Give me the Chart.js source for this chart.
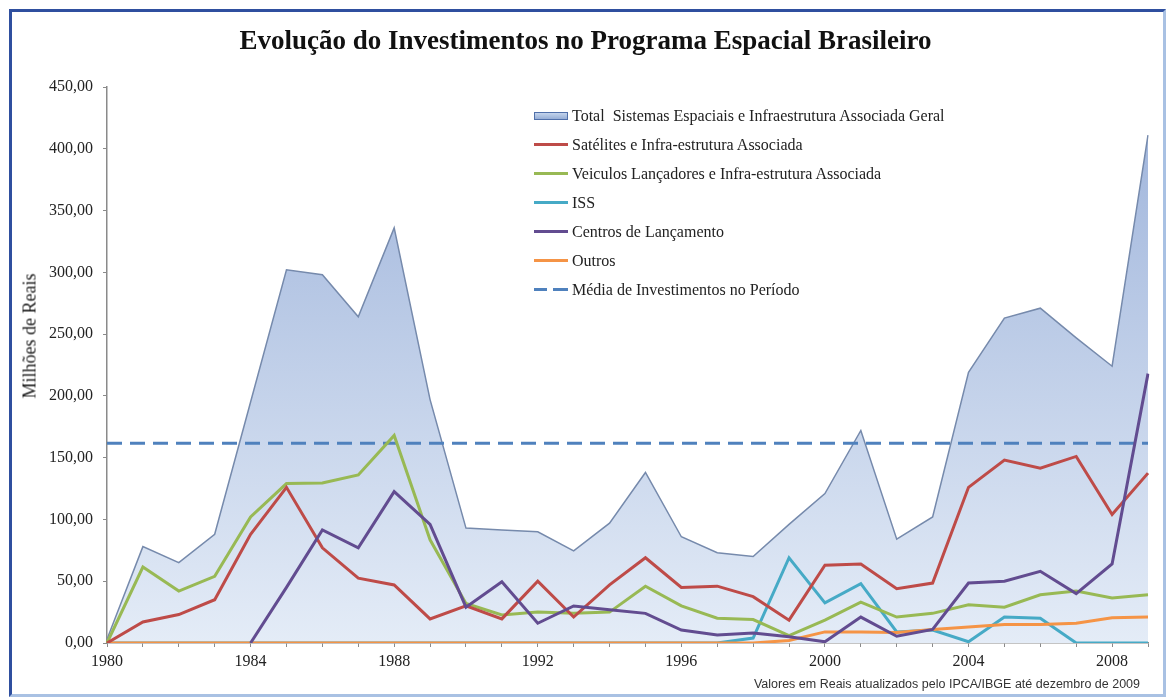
<!DOCTYPE html>
<html lang="pt-BR">
<head>
<meta charset="utf-8">
<title>Evolução do Investimentos no Programa Espacial Brasileiro</title>
<script src="https://cdn.jsdelivr.net/npm/chart.js@4.4.1/dist/chart.umd.min.js"></script>
<style>
  body {
    margin: 0;
    width: 1171px;
    height: 697px;
    overflow: hidden;
    position: relative;
    background: #fff;
    font-family: "Liberation Serif", "Times New Roman", serif;
    color: #222;
  }
  #frame {
    position: absolute;
    left: 9px;
    top: 9px;
    width: 1151px;
    height: 682px;
    border-left: 3px solid #2f4f9f;
    border-top: 3px solid #2f4f9f;
    border-right: 3px solid #a9c1e3;
    border-bottom: 3px solid #a9c1e3;
  }
  #chart {
    position: absolute;
    left: 0;
    top: 0;
  }
  #title {
    position: absolute;
    left: 0;
    top: 25px;
    width: 1171px;
    text-align: center;
    font-weight: bold;
    font-size: 27px;
    color: #111;
  }
  #yTitle {
    position: absolute;
    left: 30px;
    top: 336px;
    transform: translate(-50%, -50%) rotate(-90deg);
    white-space: nowrap;
    font-size: 18px;
    color: #1a1a1a;
  }
  #legend {
    position: absolute;
    left: 534px;
    top: 101px;
    font-size: 16px;
  }
  #legend .row {
    display: flex;
    align-items: center;
    height: 29px;
    white-space: pre;
  }
  #legend .swatch {
    width: 34px;
    margin-right: 4px;
  }
  #note {
    position: absolute;
    right: 31px;
    top: 677px;
    font-family: "Liberation Sans", Arial, sans-serif;
    font-size: 12.5px;
    color: #333;
  }
</style>
</head>
<body>
<div id="frame"></div>
<canvas id="chart" width="1171" height="697"></canvas>
<div id="title">Evolução do Investimentos no Programa Espacial Brasileiro</div>
<div id="yTitle">Milhões de Reais</div>
<div id="legend"></div>
<div id="note">Valores em Reais atualizados pelo IPCA/IBGE até dezembro de 2009</div>

<script>
"use strict";

// Anos (categorias do eixo x)
const years = [
  '1980', '1981', '1982', '1983', '1984', '1985', '1986', '1987', '1988', '1989',
  '1990', '1991', '1992', '1993', '1994', '1995', '1996', '1997', '1998', '1999',
  '2000', '2001', '2002', '2003', '2004', '2005', '2006', '2007', '2008', '2009'
];

// Valores em milhões de reais
const total = [
  3, 78, 65, 88, 195, 302, 298, 264, 336, 197,
  93, 91.5, 90, 74.5, 97, 138, 86, 73, 70, 96,
  121, 172, 84, 102, 219, 263, 271, 247, 224, 411
];
const satelites = [
  0, 17, 23, 35, 88, 126, 77, 52.5, 47, 19.5,
  30, 19.5, 50, 21, 47, 69, 45, 46, 37.5, 18.5,
  63, 64, 44, 48.5, 126, 148, 141.5, 151, 104, 137.5
];
const veiculos = [
  0, 61.5, 42, 54, 102, 129, 129.5, 136, 168, 83.5,
  32, 22.7, 25, 24, 25, 46, 30, 20, 19, 6,
  18.5, 33, 21, 24, 31, 29, 39, 42, 36.5, 39
];
const iss = [
  0, 0, 0, 0, 0, 0, 0, 0, 0, 0,
  0, 0, 0, 0, 0, 0, 0, 0, 4, 69,
  32.5, 48, 9, 10.5, 1, 21, 20, 0, 0, 0
];
const centros = [
  null, null, null, null, 0, 45, 91.5, 77, 122.5, 96,
  29, 49.5, 16, 30, 27, 24, 10.5, 6.5, 8, 5,
  1, 21, 5.5, 11, 48.5, 50, 58, 40, 64, 218
];
const outros = [
  0, 0, 0, 0, 0, 0, 0, 0, 0, 0,
  0, 0, 0, 0, 0, 0, 0, 0, 0, 2,
  9, 9, 8.5, 11, 13, 15, 15, 16, 20.5, 21
];
const mediaPeriodo = 161.6;

const yTicks = { min: 0, max: 450, step: 50 };

// Cores das séries
const red = 'rgb(190, 75, 72)';
const green = 'rgb(152, 185, 84)';
const cyan = 'rgb(70, 170, 198)';
const purple = 'rgb(98, 76, 144)';
const orange = 'rgb(245, 148, 70)';
const blue = 'rgb(79, 129, 189)';

function areaGradient(context) {
  const chart = context.chart;
  const area = chart.chartArea;
  if (!area) {
    return 'rgba(170, 192, 226, 0.9)';
  }
  const g = chart.ctx.createLinearGradient(0, area.top, 0, area.bottom);
  g.addColorStop(0, 'rgb(156, 178, 218)');
  g.addColorStop(1, 'rgb(228, 236, 247)');
  return g;
}

const datasets = [
  {
    label: 'Total  Sistemas Espaciais e Infraestrutura Associada Geral',
    data: total,
    fill: 'origin',
    backgroundColor: areaGradient,
    borderColor: 'rgb(118, 138, 172)',
    borderWidth: 1.5,
    order: 10
  },
  { label: 'Satélites e Infra-estrutura Associada', data: satelites, borderColor: red, order: 3 },
  { label: 'Veiculos Lançadores e Infra-estrutura Associada', data: veiculos, borderColor: green, order: 4 },
  { label: 'ISS', data: iss, borderColor: cyan, order: 6 },
  { label: 'Centros de Lançamento', data: centros, borderColor: purple, order: 2 },
  { label: 'Outros', data: outros, borderColor: orange, order: 5 },
  {
    label: 'Média de Investimentos no Período',
    data: [{ x: years[0], y: mediaPeriodo }, { x: years[years.length - 1], y: mediaPeriodo }],
    borderColor: blue,
    borderDash: [15, 8],
    order: 9
  }
];

const axisColor = '#8a8a8a';
const tickFont = { family: '"Liberation Serif", "Times New Roman", serif', size: 16 };

new Chart(document.getElementById('chart'), {
  type: 'line',
  data: { labels: years, datasets: datasets },
  options: {
    responsive: false,
    animation: false,
    devicePixelRatio: 1,
    layout: { padding: { left: 20, top: 87, right: 23, bottom: 24 } },
    elements: {
      point: { radius: 0 },
      line: { tension: 0, borderWidth: 3, fill: false }
    },
    plugins: {
      legend: { display: false },
      tooltip: { enabled: false }
    },
    scales: {
      x: {
        type: 'category',
        afterFit: (scale) => { scale.height = 30; },
        grid: { drawOnChartArea: false, drawTicks: true, tickLength: 4, color: axisColor },
        border: { display: true, color: axisColor, width: 1.5 },
        ticks: {
          autoSkip: false,
          maxRotation: 0,
          padding: 5,
          color: '#222',
          font: tickFont,
          callback: (value, index) => (Number(years[index]) % 4 === 0 ? years[index] : '')
        }
      },
      y: {
        min: yTicks.min,
        max: yTicks.max,
        afterFit: (scale) => { scale.width = 87; },
        grid: { drawOnChartArea: false, drawTicks: true, tickLength: 4, color: axisColor },
        border: { display: true, color: axisColor, width: 1.5 },
        ticks: {
          stepSize: yTicks.step,
          padding: 10,
          color: '#222',
          font: tickFont,
          callback: (v) => v.toFixed(2).replace('.', ',')
        }
      }
    }
  }
});

// Legenda em HTML, montada a partir das séries
const legend = document.getElementById('legend');
datasets.forEach((ds, i) => {
  let swatch;
  if (i === 0) {
    swatch = `<div class="swatch" style="height:6px;background:linear-gradient(rgb(196,212,236),rgb(150,174,214));border:1px solid rgb(80,112,170);width:32px"></div>`;
  } else if (ds.borderDash) {
    swatch = `<div class="swatch" style="height:3px;background:linear-gradient(to right, ${ds.borderColor} 0 13px, transparent 13px 19px, ${ds.borderColor} 19px 34px)"></div>`;
  } else {
    swatch = `<div class="swatch" style="height:3px;background:${ds.borderColor}"></div>`;
  }
  legend.insertAdjacentHTML('beforeend', `<div class="row">${swatch}<span>${ds.label}</span></div>`);
});
</script>
</body>
</html>
